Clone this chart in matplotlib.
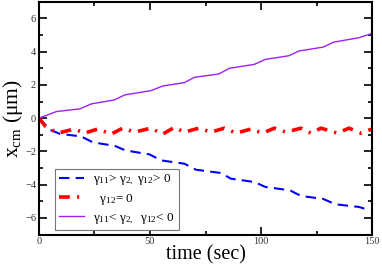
import matplotlib
matplotlib.use("Agg")
import matplotlib.pyplot as plt
from matplotlib.ticker import MultipleLocator

plt.rcParams['font.family'] = ['Liberation Serif', 'DejaVu Serif']
plt.rcParams['mathtext.fontset'] = 'custom'
plt.rcParams['mathtext.rm'] = 'Liberation Serif'
plt.rcParams['mathtext.it'] = 'Liberation Serif'
plt.rcParams['mathtext.bf'] = 'Liberation Serif:bold'

# gamma11 > gamma2, gamma12 > 0  (blue dashed)
t_pos = [0, 5, 9.4, 19, 24.4, 34, 39, 49.8, 55, 65.5, 70.7, 82, 86.4, 97, 102,
         113, 118, 128, 133.5, 144, 149]
x_pos = [0, -0.7, -0.94, -1.1, -1.46, -1.66, -1.94, -2.18, -2.54, -2.74, -3.1,
         -3.3, -3.64, -3.84, -4.14, -4.34, -4.68, -4.86, -5.18, -5.34, -5.54]

# gamma12 = 0  (red dash-dot)
t_zero = [0, 3, 8.5, 16, 20.5, 26.5, 32.5, 37.7, 43, 50.4, 55.7, 61, 65.4, 72,
          77.5, 83.5, 88.8, 95.5, 100.7, 106, 111.2, 118, 122.5, 127, 134.4,
          139.6, 145, 150]
x_zero = [0, -0.5, -0.9, -0.65, -0.9, -0.65, -0.96, -0.6, -0.84, -0.6, -0.96,
          -0.55, -0.84, -0.6, -0.84, -0.6, -0.9, -0.65, -0.9, -0.6, -0.84,
          -0.6, -0.9, -0.6, -0.9, -0.6, -0.9, -0.65]

# gamma11 < gamma2, gamma12 < 0  (purple solid)
t_neg = [0, 7.9, 18.4, 23.6, 34, 38.6, 50.5, 55.8, 65.5, 70, 81, 85.7, 97, 102,
         112.6, 117, 128, 132.8, 144, 150]
x_neg = [0, 0.4, 0.56, 0.86, 1.1, 1.4, 1.66, 1.94, 2.14, 2.46, 2.66, 3.0, 3.24,
         3.54, 3.76, 4.04, 4.28, 4.58, 4.84, 5.1]

labels = [r'$\gamma_{11}$> $\gamma_{2,}$ $\gamma_{12}$> 0',
          r'  $\gamma_{12}$= 0',
          r'$\gamma_{11}$< $\gamma_{2,}$  $\gamma_{12}$< 0']

fig = plt.figure(figsize=(3.82, 2.68), dpi=100)
ax = fig.add_axes([0.102, 0.125, 0.872, 0.868])

ax.plot(t_pos, x_pos, color='#0000ff', lw=1.5, ls=(0, (5, 3)), label=labels[0])
ax.plot(t_zero, x_zero, color='#ff0000', lw=2.6, ls=(0, (3, 2, 0.6, 2)), label=labels[1])
ax.plot(t_neg, x_neg, color='#a020f0', lw=1.0, label=labels[2])

ax.set_xlim(0, 150)
ax.set_ylim(-7, 7)
ax.xaxis.set_major_locator(MultipleLocator(50))
ax.xaxis.set_minor_locator(MultipleLocator(25))
ax.yaxis.set_major_locator(MultipleLocator(2))
ax.yaxis.set_minor_locator(MultipleLocator(1))
ax.tick_params(which='both', direction='in', top=True, right=True,
               labelsize=7.5, labelcolor='#333333', width=1.2, pad=2)
ax.tick_params(which='major', length=6)
ax.tick_params(which='minor', length=3)
for s in ax.spines.values():
    s.set_linewidth(1.5)

ax.set_xlabel('time (sec)', fontsize=14.5, labelpad=-1)
ax.set_ylabel(r'x$_{\mathrm{cm}}$ (μm)', fontsize=15.5, labelpad=0)

leg = ax.legend(loc='lower left', bbox_to_anchor=(0.048, 0.02), fontsize=9.5,
                fancybox=False, framealpha=1, edgecolor='#777777',
                handlelength=1.9, handletextpad=0.7, borderpad=0.3,
                labelspacing=0.35, borderaxespad=0)
leg.get_frame().set_linewidth(0.8)

fig.savefig('out.png', dpi=100)
